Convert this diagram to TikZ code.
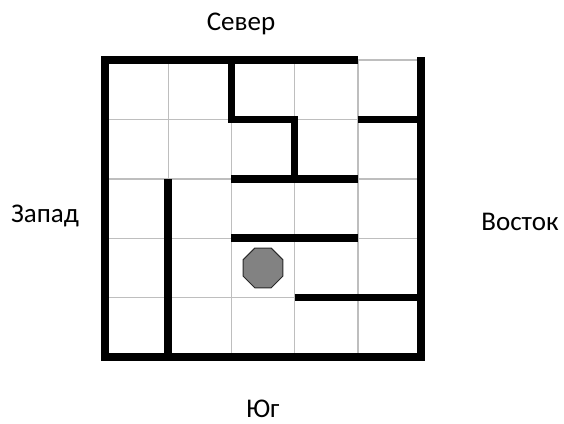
\documentclass[tikz,border=0pt]{standalone}
\usepackage{fontspec}
\setmainfont{Carlito}
\usepackage{tikz}
\usetikzlibrary{shapes.geometric}
\definecolor{gridgray}{RGB}{190, 190, 190}
\definecolor{robotgray}{RGB}{130, 130, 130}
\definecolor{robotedge}{RGB}{40, 40, 40}

\begin{document}
\begin{tikzpicture}[
      x=1pt, y=-1pt,
      label/.style={font=\fontsize{27}{32}\selectfont, anchor=base, inner sep=0pt},
      gridline/.style={gridgray, line width=1.4pt},
      wall/.style={black, line width=7.5pt, line join=miter},
      robot/.style={regular polygon, regular polygon sides=8, minimum size=43pt, inner sep=0pt, fill=robotgray, draw=robotedge, line width=1pt}
  ]
    \useasboundingbox (0,0) rectangle (564,423);

    % Directions
    \node[label] (north) at (241, 30) {Север};
    \node[label] (west) at (45, 222) {Запад};
    \node[label] (east) at (520, 230) {Восток};
    \node[label] (south) at (263, 417) {Юг};

    \begin{scope}[shift={(105pt,-60pt)}, x=63.2pt, y=-59.4pt]
      % Grid
      \foreach \i in {0,...,5} {
        \draw[gridline] (\i,0) -- (\i,5);
        \draw[gridline] (0,\i) -- (5,\i);
      }

      % Walls
      \draw[wall] (4,0) -- (0,0) -- (0,5) -- (5,5) -- (5,-0.05);
      \draw[wall] (2,0) -- (2,1) -- (3,1) -- (3,2);
      \draw[wall] (2,2) -- (4,2);
      \draw[wall] (4,1) -- (5,1);
      \draw[wall] (1,2) -- (1,5);
      \draw[wall] (2,3) -- (4,3);
      \draw[wall] (3,4) -- (5,4);

      % Robot
      \node[robot] (bot) at (2.5,3.5) {};
    \end{scope}
  \end{tikzpicture}
\end{document}
